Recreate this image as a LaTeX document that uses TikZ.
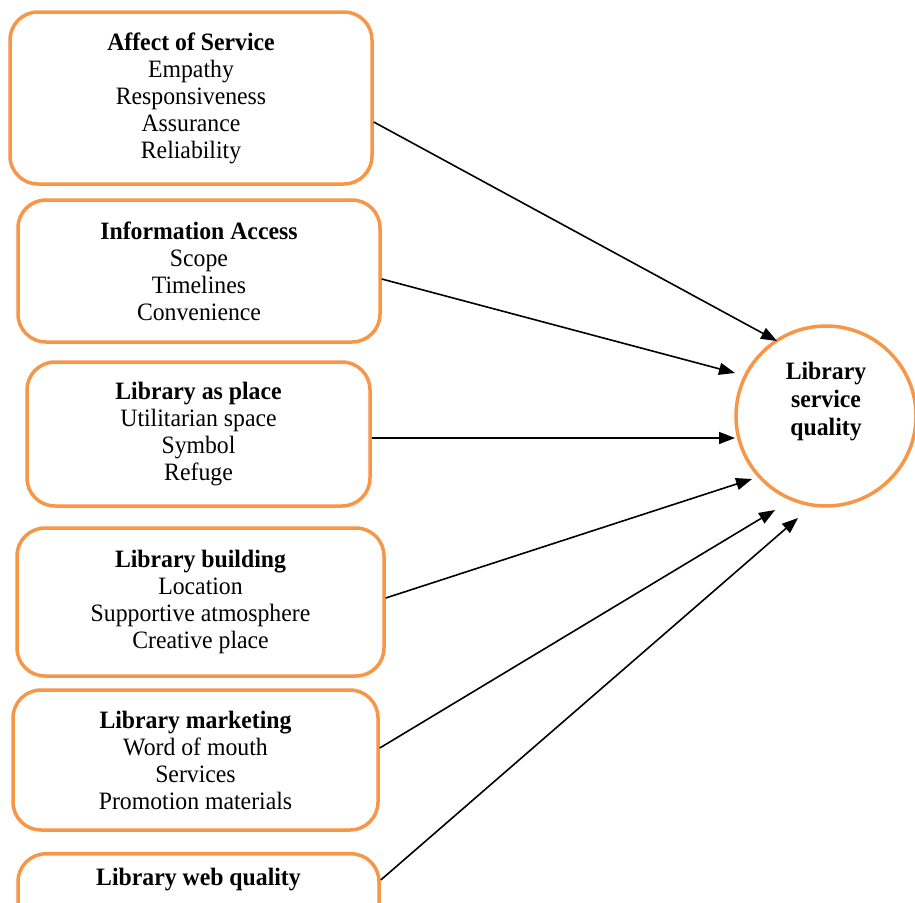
\documentclass[tikz,border=0pt]{standalone}
\usepackage{fontspec}
\setmainfont{Liberation Serif}[FakeStretch=0.95]
\usetikzlibrary{arrows.meta}
\definecolor{orng}{RGB}{247,150,70}
\begin{document}
\begin{tikzpicture}[x=1pt,y=-1pt,
  fbox/.style={draw=orng, line width=3.5pt, rounded corners=28pt, fill=white,
    align=center, inner sep=0pt, font=\fontsize{25}{27}\selectfont},
  conn/.style={line width=1.6pt, -{Triangle[length=16pt,width=12pt]}}]
\clip (0,0) rectangle (915,902);
\fill[white] (0,0) rectangle (915,902);
\node[fbox, minimum width=362pt, minimum height=172pt] (b1) at (191,98)
  {\textbf{Affect of Service}\\Empathy\\Responsiveness\\Assurance\\Reliability};
\node[fbox, minimum width=362pt, minimum height=142pt] (b2) at (199,271)
  {\textbf{Information Access}\\Scope\\Timelines\\Convenience};
\node[fbox, minimum width=343pt, minimum height=144pt] (b3) at (198.5,434)
  {\textbf{Library as place}\\Utilitarian space\\Symbol\\Refuge};
\node[fbox, minimum width=367pt, minimum height=148pt] (b4) at (200.5,602)
  {\textbf{Library building}\\Location\\Supportive atmosphere\\Creative place};
\node[fbox, minimum width=365pt, minimum height=140pt] (b5) at (195.5,760)
  {\textbf{Library marketing}\\Word of mouth\\Services\\Promotion materials};
\node[fbox, minimum width=361pt, minimum height=120pt, anchor=north, text depth=88pt, text height=32pt] (b6) at (198.5,852)
  {\textbf{Library web quality}};
\node[circle, draw=orng, line width=3.5pt, minimum size=180pt, inner sep=0pt] (cq) at (826,416) {};
\node[align=center, font=\fontsize{25}{28}\selectfont\bfseries] (cqt) at ([yshift=14pt]cq.center)
  {Library\\service\\quality};
\coordinate (e1) at (777,341);
\coordinate (e2) at (735,373);
\coordinate (e3) at (735,438);
\coordinate (e4) at (752,479);
\coordinate (e5) at (775,510);
\coordinate (e6) at (798,518);
\draw[conn] ([yshift=-24pt]b1.east) -- (e1);
\draw[conn] ([yshift=-8pt]b2.east) -- (e2);
\draw[conn] (b3.east |- e3) -- (e3);
\draw[conn] ([yshift=4pt]b4.east) -- (e4);
\draw[conn] ([yshift=12pt]b5.east) -- (e5);
\draw[conn] ([yshift=-28pt]b6.north east) -- (e6);
\end{tikzpicture}
\end{document}
